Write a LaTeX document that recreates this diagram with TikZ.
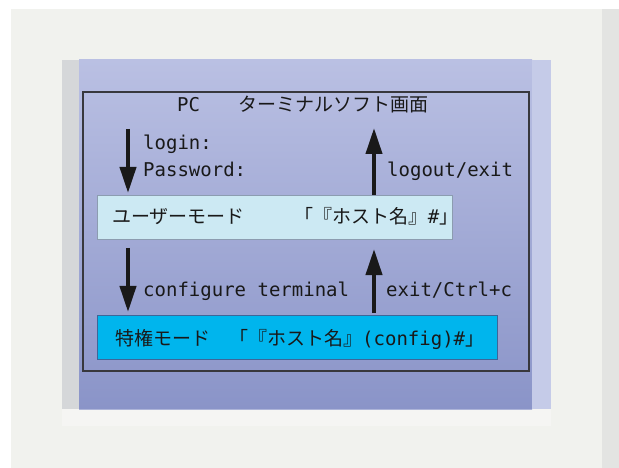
\documentclass[tikz,border=0pt]{standalone}
\usepackage{fontspec}
\setmainfont{DejaVu Sans Mono}
\newfontfamily\jpfont{Noto Sans CJK JP}
\usetikzlibrary{calc}
\usetikzlibrary{arrows.meta}

\begin{document}
\begin{tikzpicture}[line cap=butt,line join=miter,>={Triangle[length=26bp,width=16bp]},x=1bp,y=-1bp,
  lbl/.style={inner sep=0pt,anchor=base west,font=\fontsize{19bp}{22bp}\selectfont,color=qqqqqq},
  modebox/.style={line width=1bp,inner sep=0pt,minimum height=44bp,anchor=north west},
  modearrow/.style={->,line width=4bp,color=qqqqqq}]
\newcommand{\jp}[1]{{\jpfont #1}}
\definecolor{qqqqqq}{rgb}{0.1,0.1,0.1}
\definecolor{ffffee}{rgb}{0.945,0.949,0.933}
\definecolor{eeeeee}{rgb}{0.89,0.894,0.886}
\definecolor{ddddee}{rgb}{0.835,0.843,0.85}
\definecolor{bbbbee}{rgb}{0.729,0.753,0.89}
\definecolor{88aacc}{rgb}{0.541,0.58,0.784}
\definecolor{ccccee}{rgb}{0.773,0.796,0.91}
\definecolor{ccefff}{rgb}{0.8,0.914,0.953}
\definecolor{8899aa}{rgb}{0.55,0.61,0.69}
\definecolor{qqbbee}{rgb}{0.,0.71,0.93}
\definecolor{336699}{rgb}{0.24,0.4,0.6}
\definecolor{333333}{rgb}{0.22,0.22,0.24}

\useasboundingbox (0,0) rectangle (619,468);
\fill[white] (0,0) rectangle (619,468);
\fill[ffffee] (11,9) rectangle (619,468);
\fill[eeeeee] (602,9) rectangle (619,468);
% panel
\fill[ddddee] (62,60) rectangle (79,409);
\shade[top color=bbbbee,bottom color=88aacc] (79,60) rectangle (532,409);
\fill[ccccee] (532,60) rectangle (551,409);
\fill[white,opacity=0.3] (62,409) rectangle (551,426);
\draw[color=333333,line width=1.3bp] (83,92) rectangle (529,371);

\node[lbl] (title) at (177,112) {PC\jp{　　ターミナルソフト画面}};

\node[modebox,draw=8899aa,fill=ccefff,minimum width=355bp] (user) at (97,195) {};
\node[modebox,draw=336699,fill=qqbbee,minimum width=400bp] (priv) at (97,315) {};
\node[lbl] (usertext) at (112,224) {\jp{ユーザーモード　　}\hspace{12bp}\jp{「『ホスト名』}\#\jp{」}};
\node[lbl] (privtext) at (115,345) {\jp{特権モード　「『ホスト名』}(config)\#\jp{」}};

\node[lbl] (login) at (143,150) {login:};
\node[lbl] (password) at (143,177) {Password:};
\node[lbl] (logout) at (387,177) {logout/exit};
\node[lbl] (conf) at (143,297) {configure terminal};
\node[lbl] (exit) at (386,297) {exit/Ctrl+c};

\coordinate (dl) at (128,129);
\coordinate (ul) at (374,128);
\coordinate (dc) at (128,248);
\coordinate (ue) at (374,249);
\draw[modearrow,shorten >=2bp] (dl) -- (dl |- user.north);
\draw[modearrow] (ul |- user.north) -- (ul);
\draw[modearrow,shorten >=3bp] (dc) -- (dc |- priv.north);
\draw[modearrow,shorten <=2bp] (ue |- priv.north) -- (ue);
\end{tikzpicture}
\end{document}
